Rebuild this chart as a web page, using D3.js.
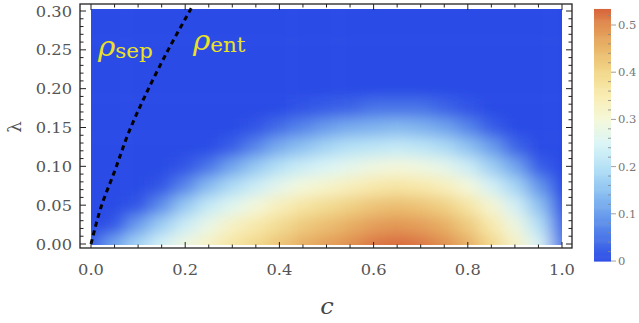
<!DOCTYPE html>
<html>
<head>
<meta charset="utf-8">
<script src="https://cdn.jsdelivr.net/npm/d3@7"></script>
<style>
  body { margin: 0; background: #fff; }
  svg { display: block; }
  text { font-family: "DejaVu Serif", serif; }
</style>
</head>
<body>
<svg id="chart" width="639" height="323"></svg>
<script>
// grid of the density plot: columns are c, rows are lambda
const cValues = [0, 0.05, 0.1, 0.15, 0.2, 0.25, 0.3, 0.35, 0.4, 0.45, 0.5, 0.55, 0.6, 0.65, 0.7, 0.75, 0.8, 0.85, 0.9, 0.95, 1.0];
const lambdaValues = [0, 0.025, 0.05, 0.075, 0.1, 0.125, 0.15, 0.175, 0.2, 0.225, 0.25, 0.275, 0.3];

const row000 = [0.02, 0.11, 0.18, 0.24, 0.29, 0.33, 0.37, 0.40, 0.43, 0.46, 0.48, 0.50, 0.52, 0.53, 0.52, 0.50, 0.46, 0.40, 0.33, 0.25, 0.05];
const row025 = [0, 0.01, 0.10, 0.17, 0.23, 0.28, 0.33, 0.36, 0.39, 0.42, 0.44, 0.46, 0.48, 0.49, 0.48, 0.46, 0.42, 0.36, 0.29, 0.20, 0.03];
const row050 = [0, 0, 0.01, 0.08, 0.16, 0.22, 0.26, 0.30, 0.34, 0.37, 0.39, 0.41, 0.43, 0.44, 0.43, 0.41, 0.37, 0.31, 0.24, 0.15, 0.01];
const row075 = [0, 0, 0, 0.01, 0.07, 0.14, 0.19, 0.23, 0.27, 0.30, 0.32, 0.34, 0.36, 0.37, 0.36, 0.34, 0.30, 0.24, 0.18, 0.09, 0];
const row100 = [0, 0, 0, 0, 0.01, 0.05, 0.11, 0.16, 0.20, 0.23, 0.25, 0.27, 0.29, 0.30, 0.29, 0.27, 0.23, 0.17, 0.11, 0.02, 0];
const row125 = [0, 0, 0, 0, 0, 0, 0.02, 0.07, 0.12, 0.15, 0.18, 0.20, 0.21, 0.22, 0.21, 0.19, 0.15, 0.10, 0.03, 0, 0];
const row150 = [0, 0, 0, 0, 0, 0, 0, 0.01, 0.04, 0.07, 0.10, 0.12, 0.13, 0.14, 0.13, 0.11, 0.07, 0.02, 0, 0, 0];
const row175 = [0, 0, 0, 0, 0, 0, 0, 0, 0, 0.01, 0.02, 0.03, 0.05, 0.05, 0.05, 0.03, 0.01, 0, 0, 0, 0];
const row200 = [0, 0, 0, 0, 0, 0, 0, 0, 0, 0, 0, 0, 0, 0, 0, 0, 0, 0, 0, 0, 0];
const fieldRows = [row000, row025, row050, row075, row100, row125, row150, row175, row200, row200, row200, row200, row200];

// dashed boundary between rho_sep and rho_ent
const sepCurveC = [0, 0.021, 0.051, 0.079, 0.115, 0.163, 0.204, 0.217];
const sepCurveLambda = [0, 0.047, 0.095, 0.142, 0.191, 0.249, 0.294, 0.308];

const xTickLabels = [0, 0.2, 0.4, 0.6, 0.8, 1.0];
const yTickLabels = [0, 0.05, 0.1, 0.15, 0.2, 0.25, 0.3];
const barTickLabels = [0, 0.1, 0.2, 0.3, 0.4, 0.5];
const barMax = 0.534;

const colorDomain = [0, 0.05, 0.1, 0.15, 0.2, 0.25, 0.3, 0.35, 0.4, 0.45, 0.5, 0.534];
const colorRange = ["#2c4ce6", "#4a76e8", "#6a9eec", "#8fc3f1", "#b6e2f6", "#dbf5f6",
                    "#f4f8da", "#f9edb3", "#f2d88b", "#e9b76a", "#e08f50", "#d8653c"];

const svg = d3.select("#chart");
const frame = { left: 80, right: 572, top: 4, bottom: 248 };
const plot = { left: 91, right: 562, top: 9, bottom: 245 };
const textStretch = 1.05;
const grey = "#555";

const x = d3.scaleLinear().domain([0, 1]).range([91, 562]);
const y = d3.scaleLinear().domain([0, 0.3]).range([244, 11]);
const color = d3.scaleLinear().domain(colorDomain).range(colorRange).interpolate(d3.interpolateRgb).clamp(true);

const defs = svg.append("defs");
defs.append("clipPath").attr("id", "plotClip")
  .append("rect")
  .attr("x", plot.left).attr("y", plot.top)
  .attr("width", plot.right - plot.left).attr("height", plot.bottom - plot.top);
defs.append("clipPath").attr("id", "frameClip")
  .append("rect")
  .attr("x", frame.left).attr("y", frame.top)
  .attr("width", frame.right - frame.left).attr("height", frame.bottom - frame.top);
defs.append("filter").attr("id", "smooth")
  .attr("x", "-20%").attr("y", "-20%").attr("width", "140%").attr("height", "140%")
  .append("feGaussianBlur").attr("stdDeviation", "9 7");

// density cells (edge cells stretched outward so the blur doesn't fade at the border)
const dc = 0.05, dl = 0.025;
const cells = [];
fieldRows.forEach((row, j) => {
  row.forEach((v, i) => cells.push({ c: cValues[i], l: lambdaValues[j], v: v, i: i, j: j }));
});

svg.append("g").attr("clip-path", "url(#plotClip)")
  .append("g").attr("filter", "url(#smooth)")
  .selectAll("rect")
  .data(cells)
  .enter()
  .append("rect")
  .attr("x", d => x(d.c - dc / 2) - (d.i === 0 ? 40 : 0))
  .attr("width", d => x(d.c + dc / 2) - x(d.c - dc / 2) + (d.i === 0 || d.i === cValues.length - 1 ? 40 : 0) + 0.5)
  .attr("y", d => y(d.l + dl / 2) - (d.j === lambdaValues.length - 1 ? 40 : 0))
  .attr("height", d => y(d.l - dl / 2) - y(d.l + dl / 2) + (d.j === 0 || d.j === lambdaValues.length - 1 ? 40 : 0) + 0.5)
  .attr("fill", d => color(d.v));

// dashed separability boundary
const sepPoints = sepCurveC.map((c, k) => [c, sepCurveLambda[k]]);
svg.append("path")
  .datum(sepPoints)
  .attr("clip-path", "url(#frameClip)")
  .attr("d", d3.line().x(d => x(d[0])).y(d => y(d[1])).curve(d3.curveCatmullRom))
  .attr("fill", "none")
  .attr("stroke", "#000")
  .attr("stroke-width", 3)
  .attr("stroke-dasharray", "5,4");

// frame and ticks on all four sides
svg.append("rect")
  .attr("x", frame.left).attr("y", frame.top)
  .attr("width", frame.right - frame.left).attr("height", frame.bottom - frame.top)
  .attr("fill", "none").attr("stroke", "#222").attr("stroke-width", 1.3);

const ticks = svg.append("g").attr("stroke", "#222").attr("stroke-width", 1);
d3.range(0, 1.0001, 0.05).forEach(c => {
  const major = Math.abs(c * 5 - Math.round(c * 5)) < 1e-6;
  const len = major ? 6 : 3.5;
  ticks.append("line").attr("x1", x(c)).attr("x2", x(c)).attr("y1", frame.bottom).attr("y2", frame.bottom - len);
  ticks.append("line").attr("x1", x(c)).attr("x2", x(c)).attr("y1", frame.top).attr("y2", frame.top + len);
});
d3.range(0, 0.3001, 0.01).forEach(l => {
  const major = Math.abs(l * 20 - Math.round(l * 20)) < 1e-6;
  const len = major ? 6 : 3.5;
  ticks.append("line").attr("y1", y(l)).attr("y2", y(l)).attr("x1", frame.left).attr("x2", frame.left + len);
  ticks.append("line").attr("y1", y(l)).attr("y2", y(l)).attr("x1", frame.right).attr("x2", frame.right - len);
});

function stretchedText(px, py, str) {
  return svg.append("text")
    .attr("transform", `translate(${px},${py}) scale(${textStretch},1)`)
    .text(str);
}

// tick labels
xTickLabels.forEach(c => {
  stretchedText(x(c), 275, d3.format(".1f")(c))
    .attr("text-anchor", "middle").style("font-size", "15.5px").attr("fill", grey);
});
yTickLabels.forEach(l => {
  stretchedText(72, y(l) + 5.5, d3.format(".2f")(l))
    .attr("text-anchor", "end").style("font-size", "15.5px").attr("fill", grey);
});

// axis labels
stretchedText(327, 314, "c")
  .attr("text-anchor", "middle").style("font-size", "23px").style("font-style", "italic").attr("fill", "#444");
svg.append("text")
  .attr("transform", `translate(21,127) scale(${textStretch},1) rotate(-90)`)
  .attr("text-anchor", "middle")
  .style("font-size", "18px").attr("fill", grey)
  .text("λ");

// region labels
function rhoLabel(px, py, sub) {
  const t = stretchedText(px, py, null).attr("fill", "#ece125");
  t.append("tspan").style("font-style", "italic").style("font-size", "28px").text("ρ");
  t.append("tspan").attr("dy", 2).style("font-size", "20.5px").text(sub);
}
rhoLabel(98, 56, "sep");
rhoLabel(193, 50, "ent");

// colour bar
const barX = 594, barW = 17;
const yBar = d3.scaleLinear().domain([0, 0.5]).range([261, 25]);
const barSteps = d3.range(0, barMax, 0.002);
svg.append("g").selectAll("rect")
  .data(barSteps)
  .enter()
  .append("rect")
  .attr("x", barX).attr("width", barW)
  .attr("y", d => yBar(Math.min(d + 0.002, barMax)))
  .attr("height", d => yBar(d) - yBar(Math.min(d + 0.002, barMax)) + 0.6)
  .attr("fill", d => color(d + 0.001));

const barTicks = svg.append("g").attr("stroke", "#888").attr("stroke-width", 0.8);
d3.range(0, barMax, 0.02).forEach(v => {
  const major = Math.abs(v * 10 - Math.round(v * 10)) < 1e-6;
  barTicks.append("line")
    .attr("x1", barX + barW - (major ? 0 : 3)).attr("x2", barX + barW + (major ? 5 : 0))
    .attr("y1", yBar(v)).attr("y2", yBar(v));
});
barTickLabels.forEach(v => {
  stretchedText(618, yBar(v) + 4, v === 0 ? "0" : d3.format(".1f")(v))
    .style("font-size", "11px").attr("fill", "#777");
});
</script>
</body>
</html>
